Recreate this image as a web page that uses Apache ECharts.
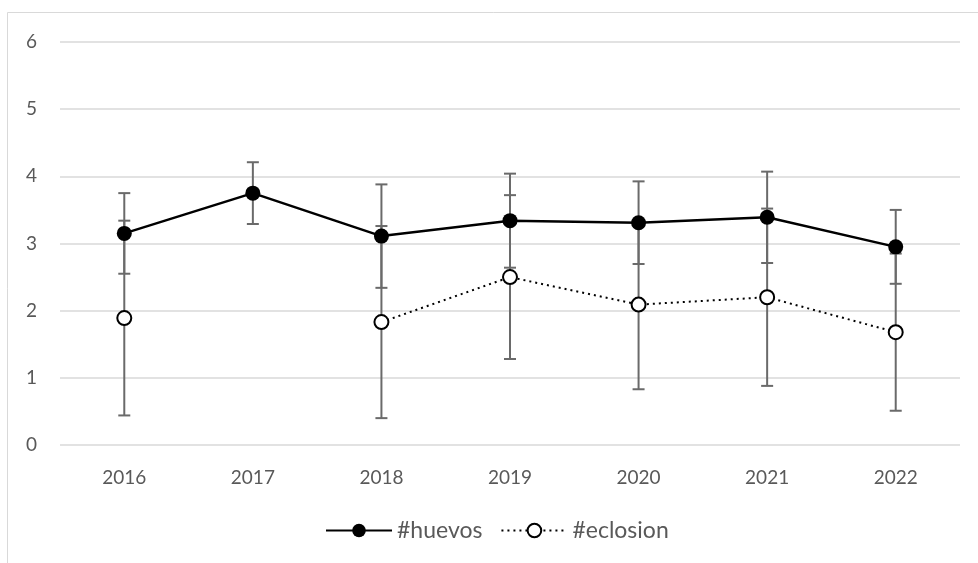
<!DOCTYPE html>
<html>
<head>
<meta charset="utf-8">
<script src="https://cdn.jsdelivr.net/npm/echarts@6/dist/echarts.min.js"></script>
<style>
  html, body { margin: 0; padding: 0; background: #fff; }
  #chart { width: 978px; height: 563px; }
</style>
</head>
<body>
<div id="chart"></div>
<script>
// Yearly means with their ± error for eggs laid and hatching
const years = ['2016', '2017', '2018', '2019', '2020', '2021', '2022'];
const huevosMean = [3.15, 3.75, 3.11, 3.34, 3.31, 3.39, 2.95];
const huevosErr = [0.60, 0.46, 0.77, 0.70, 0.615, 0.68, 0.55];
const eclosionMean = [1.89, null, 1.83, 2.50, 2.09, 2.20, 1.68];
const eclosionErr = [1.45, null, 1.43, 1.22, 1.26, 1.32, 1.17];
const yTicks = [0, 1, 2, 3, 4, 5, 6];

const FONT = 'Lato';
const TEXT = '#595959';

function errorData(means, errs) {
  const out = [];
  means.forEach((m, i) => {
    if (m != null && errs[i] != null) out.push([i, m, errs[i]]);
  });
  return out;
}

function renderErrorBar(params, api) {
  const idx = api.value(0);
  const m = api.value(1);
  const e = api.value(2);
  const top = api.coord([idx, m + e]);
  const bot = api.coord([idx, m - e]);
  const hw = 6;
  const style = { stroke: '#6a6a6a', lineWidth: 2 };
  return {
    type: 'group',
    children: [
      { type: 'line', shape: { x1: top[0], y1: top[1], x2: bot[0], y2: bot[1] }, style },
      { type: 'line', shape: { x1: top[0] - hw, y1: top[1], x2: top[0] + hw, y2: top[1] }, style },
      { type: 'line', shape: { x1: bot[0] - hw, y1: bot[1], x2: bot[0] + hw, y2: bot[1] }, style }
    ]
  };
}

const chart = echarts.init(document.getElementById('chart'), null, { renderer: 'canvas' });

chart.setOption({
  animation: false,
  backgroundColor: '#ffffff',
  textStyle: { fontFamily: FONT, color: TEXT },
  graphic: [{
    type: 'rect',
    shape: { x: 7.5, y: 12.5, width: 1200, height: 1200 },
    style: { fill: 'none', stroke: '#d9d9d9', lineWidth: 1 },
    silent: true,
    z: -10
  }],
  grid: { left: 60, right: 18, top: 42, bottom: 118, containLabel: false },
  legend: {
    data: ['#huevos', '#eclosion'],
    bottom: 16,
    left: 320,
    itemWidth: 66,
    itemHeight: 17,
    itemGap: 18,
    textStyle: { fontFamily: FONT, fontSize: 23, color: TEXT }
  },
  xAxis: {
    type: 'category',
    data: years,
    boundaryGap: true,
    axisLine: { show: false },
    axisTick: { show: false },
    axisLabel: { fontFamily: FONT, fontSize: 19, color: TEXT, margin: 23 },
    splitLine: { show: false }
  },
  yAxis: {
    type: 'value',
    min: yTicks[0],
    max: yTicks[yTicks.length - 1],
    interval: 1,
    axisLine: { show: false },
    axisTick: { show: false },
    axisLabel: { fontFamily: FONT, fontSize: 19, color: TEXT, margin: 23 },
    splitLine: { lineStyle: { color: '#d9d9d9', width: 1.5 } }
  },
  series: [
    {
      name: 'huevos-error',
      type: 'custom',
      renderItem: renderErrorBar,
      data: errorData(huevosMean, huevosErr),
      encode: { x: 0, y: 1 },
      z: 1,
      silent: true
    },
    {
      name: 'eclosion-error',
      type: 'custom',
      renderItem: renderErrorBar,
      data: errorData(eclosionMean, eclosionErr),
      encode: { x: 0, y: 1 },
      z: 1,
      silent: true
    },
    {
      name: '#huevos',
      type: 'line',
      data: huevosMean,
      symbol: 'circle',
      symbolSize: 15,
      showAllSymbol: true,
      lineStyle: { color: '#000', width: 2.5, type: 'solid' },
      itemStyle: { color: '#000', borderColor: '#000', borderWidth: 0 },
      z: 3
    },
    {
      name: '#eclosion',
      type: 'line',
      data: eclosionMean,
      connectNulls: false,
      symbol: 'circle',
      symbolSize: 14,
      showAllSymbol: true,
      lineStyle: { color: '#000', width: 2, type: [2, 4] },
      itemStyle: { color: '#ffffff', borderColor: '#000', borderWidth: 2 },
      z: 3
    }
  ]
});
</script>
</body>
</html>
